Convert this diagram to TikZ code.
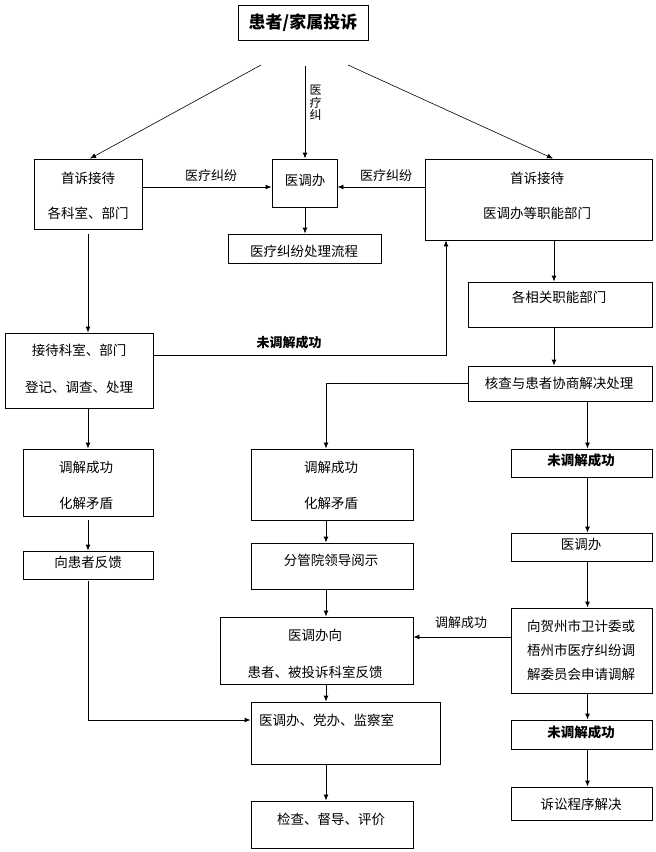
\documentclass[tikz,border=0pt]{standalone}
\usepackage{fontspec}
\newfontfamily\cjk{Noto Sans CJK SC}
\usetikzlibrary{arrows.meta}
\tikzset{
  box/.style={draw, line width=0.9pt, inner sep=0pt, rectangle},
  txt/.style={inner sep=0pt, font=\cjk\fontsize{13.5}{16}\selectfont},
  lbl/.style={inner sep=0pt, font=\cjk\fontsize{13}{15}\selectfont},
  bld/.style={inner sep=0pt, font=\cjk\bfseries\fontsize{13.5}{16}\selectfont},
  arr/.style={line width=0.9pt, -{Latex[length=6pt,width=5pt]}},
  ln/.style={line width=0.9pt}
}
\newcommand\mybox[5]{\node[box, minimum width={(#4-#2)*1pt}, minimum height={(#5-#3)*1pt}] (#1) at ({(#2+#4)/2},{(#3+#5)/2}) {};}
\begin{document}
\begin{tikzpicture}[x=1pt,y=-1pt]
\useasboundingbox (0,0) rectangle (656,852);
% boxes
\mybox{top}{238}{5}{368}{40}
\mybox{L1}{34}{159}{142}{229}
\mybox{M1}{272}{159}{337}{207}
\mybox{M2}{228}{234}{381}{263}
\mybox{R1}{425}{159}{652}{240}
\mybox{R2}{468}{282}{652}{327}
\mybox{L2}{5}{333}{153}{408}
\mybox{R3}{468}{366}{652}{401}
\mybox{M3}{251}{449}{413}{520}
\mybox{R4}{511}{449}{652}{477}
\mybox{L3}{23}{449}{153}{516}
\mybox{L4}{23}{551}{153}{579}
\mybox{M4}{251}{543}{413}{589}
\mybox{R5}{511}{533}{652}{561}
\mybox{R6}{511}{608}{652}{693}
\mybox{M5}{220}{617}{413}{684}
\mybox{M6}{251}{702}{440}{764}
\mybox{M7}{251}{801}{413}{848}
\mybox{R7}{511}{720}{652}{749}
\mybox{R8}{511}{787}{652}{820}
% texts
\node[inner sep=0pt, font=\cjk\bfseries\fontsize{17}{20}\selectfont] (ttop) at (303,23) {患者/家属投诉};
\node[txt] (tL1a) at (88,178) {首诉接待};
\node[txt] (tL1b) at (88,213) {各科室、部门};
\node[txt] (tM1) at (305,180) {医调办};
\node[txt] (tM2) at (304,251) {医疗纠纷处理流程};
\node[txt] (tR1a) at (537,178) {首诉接待};
\node[txt] (tR1b) at (537,213) {医调办等职能部门};
\node[txt] (tR2) at (559,297) {各相关职能部门};
\node[txt] (tL2a) at (79,350) {接待科室、部门};
\node[txt] (tL2b) at (79,387) {登记、调查、处理};
\node[txt] (tR3) at (559,383) {核查与患者协商解决处理};
\node[txt] (tM3a) at (331,467) {调解成功};
\node[txt] (tM3b) at (331,503) {化解矛盾};
\node[bld] (tR4) at (581,460) {未调解成功};
\node[txt] (tL3a) at (86,467) {调解成功};
\node[txt] (tL3b) at (86,503) {化解矛盾};
\node[txt] (tL4) at (88,562) {向患者反馈};
\node[txt] (tM4) at (331,560) {分管院领导阅示};
\node[txt] (tR5) at (581,544) {医调办};
\node[txt] (tR6a) at (581,626) {向贺州市卫计委或};
\node[txt] (tR6b) at (581,650) {梧州市医疗纠纷调};
\node[txt] (tR6c) at (581,674) {解委员会申请调解};
\node[txt] (tM5a) at (315,635) {医调办向};
\node[txt] (tM5b) at (315,672) {患者、被投诉科室反馈};
\node[txt, anchor=west] (tM6) at (259,720) {医调办、党办、监察室};
\node[txt] (tM7) at (331,819) {检查、督导、评价};
\node[bld] (tR7) at (581,732) {未调解成功};
\node[txt] (tR8) at (581,804) {诉讼程序解决};
% labels
\node[lbl] (la1) at (211,176) {医疗纠纷};
\node[lbl] (la2) at (386,176) {医疗纠纷};
\node[lbl, align=center, font=\cjk\fontsize{12}{12.5}\selectfont] (la3) at (315.5,103) {医\\疗\\纠};
\node[bld, font=\cjk\bfseries\fontsize{13}{15}\selectfont] (la4) at (289,343) {未调解成功};
\node[lbl] (la5) at (461,623) {调解成功};
% free ends
\coordinate (t1) at (261,65);
\coordinate (t2) at (305,66);
\coordinate (t3) at (348,65);
% connectors
\draw[arr, line width=0.6pt] (t1) -- (L1.north -| 90,0);
\draw[arr] (t2) -- (M1.north -| 305,0);
\draw[arr, line width=0.6pt] (t3) -- (R1.north -| 553,0);
\draw[arr] (L1.east |- 0,187) -- (M1.west |- 0,187);
\draw[arr] (R1.west |- 0,187) -- (M1.east |- 0,187);
\draw[arr] (M1.south -| 305,0) -- (M2.north -| 305,0);
\draw[arr, shorten <=5pt] (L1.south) -- (L2.north -| L1.south);
\draw[arr] (L2.east |- 0,355) -| (R1.south -| 446,0);
\draw[arr] (R1.south -| 554,0) -- (R2.north -| 554,0);
\draw[arr] (R2.south -| 554,0) -- (R3.north -| 554,0);
\draw[arr] (R3.west |- 0,383) -| (M3.north -| 326,0);
\draw[arr] (R3.south -| 587.5,0) -- (R4.north -| 587.5,0);
\draw[arr] (L2.south -| 88,0) -- (L3.north -| 88,0);
\draw[arr, shorten <=4pt] (L3.south -| 88,0) -- (L4.north -| 88,0);
\draw[arr] (M3.south -| 326,0) -- (M4.north -| 326,0);
\draw[arr] (R4.south -| 587.5,0) -- (R5.north -| 587.5,0);
\draw[arr] (R5.south -| 587.5,0) -- (R6.north -| 587.5,0);
\draw[arr] (R6.west |- 0,637) -- (M5.east |- 0,637);
\draw[arr] (M4.south -| 326,0) -- (M5.north -| 326,0);
\draw[arr] (M5.south -| 326,0) -- (M6.north -| 326,0);
\draw[arr, shorten <=2pt] (L4.south -| 88,0) |- (M6.west |- 0,720);
\draw[arr] (M6.south -| 326,0) -- (M7.north -| 326,0);
\draw[arr] (R6.south -| 587.5,0) -- (R7.north -| 587.5,0);
\draw[arr] (R7.south -| 587.5,0) -- (R8.north -| 587.5,0);
\end{tikzpicture}
\end{document}
